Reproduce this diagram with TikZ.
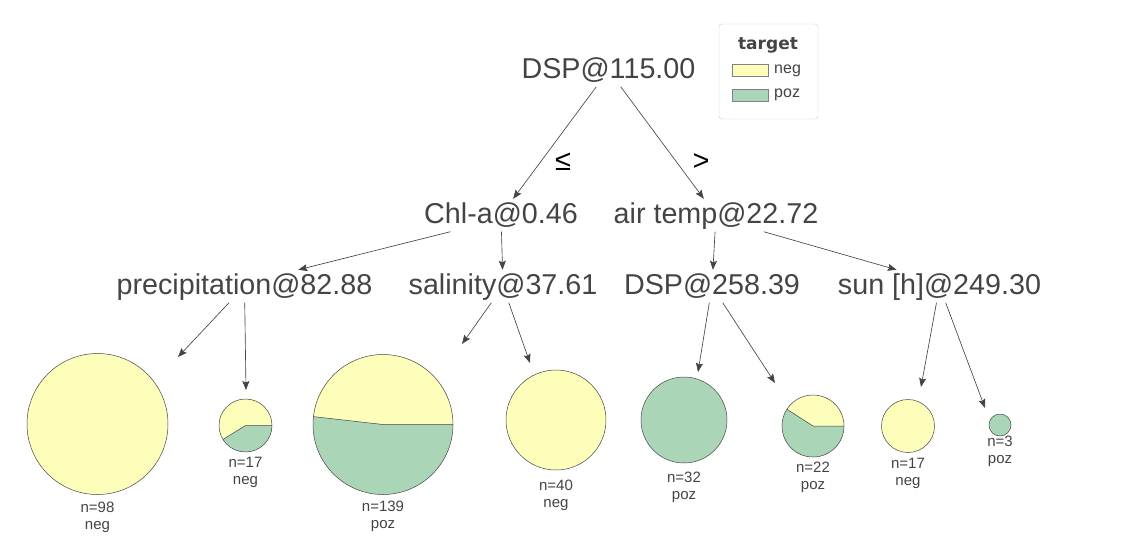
\documentclass[tikz,border=0pt]{standalone}
\usepackage{fontspec}
\setmainfont{Liberation Sans}
\newfontfamily\legendfont{DejaVu Sans}
\usetikzlibrary{arrows.meta, calc}

\definecolor{labelgrey}{HTML}{444443}
\definecolor{negcolor}{HTML}{FEFEBB}
\definecolor{pozcolor}{HTML}{AAD6B7}
\definecolor{framegrey}{HTML}{CCCCCC}

\tikzset{
	split/.style={text=labelgrey, font=\fontsize{28.7}{30}\selectfont, inner sep=0pt, text height=24pt, text depth=8.5pt, anchor=base},
	cond/.style={text=black, font=\fontsize{29}{30}\selectfont, inner sep=0pt},
	edge/.style={draw=labelgrey, line width=0.65pt, -{Stealth[length=9pt, width=7pt, inset=1.5pt]}},
	leafcircle/.style={circle, draw=labelgrey, line width=0.5pt, inner sep=0pt},
	leaflabel/.style={text=labelgrey, font=\fontsize{15}{17}\selectfont, align=center, inner sep=0pt, anchor=north},
	swatch/.style={draw=gray, line width=0.5pt, minimum width=36pt, minimum height=12pt, inner sep=0pt},
	keytext/.style={text=labelgrey, font=\fontsize{16}{18}\selectfont, inner sep=0pt, anchor=west}
}

% mixed leaf: name, x, y, radius, angle of the neg share
\newcommand{\leafpie}[5]{%
	\fill[negcolor] (#2,#3) -- ++(0:#4) arc[start angle=0, end angle=-#5, radius=#4] -- cycle;
	\fill[pozcolor] (#2,#3) -- ++(-#5:#4) arc[start angle=-#5, end angle=-360, radius=#4] -- cycle;
	\draw[labelgrey, line width=0.5pt] (#2,#3) ++(0:#4) -- (#2,#3) -- ++(-#5:#4);
	\node[leafcircle, minimum size={2*#4pt}] (#1) at (#2,#3) {};
}
% pure leaf: name, x, y, radius, colour
\newcommand{\leafdisc}[5]{%
	\node[leafcircle, fill=#5, minimum size={2*#4pt}] (#1) at (#2,#3) {};
}

\begin{document}
\begin{tikzpicture}[x=1pt, y=-1pt]
\useasboundingbox (0,0) rectangle (1130,558);

% Split nodes
\node[split] (root) at (608.5,78) {DSP@115.00};
\node[split] (chla) at (501,223) {Chl-a@0.46};
\node[split] (airtemp) at (716,223) {air temp@22.72};
\node[split] (precip) at (244.5,294) {precipitation@82.88};
\node[split] (salinity) at (503,294) {salinity@37.61};
\node[split] (dsplow) at (712,294) {DSP@258.39};
\node[split] (sun) at (939.5,294) {sun [h]@249.30};

\node[cond] (le) at (563,162) {≤};
\node[cond] (gt) at (701,162) {>};

% Split edges
\draw[edge] (root) -- (chla);
\draw[edge] (root) -- (airtemp);
\draw[edge] (chla.-162) -- (precip.17);
\draw[edge] (chla) -- (salinity);
\draw[edge] (airtemp) -- (dsplow);
\draw[edge] (airtemp.-19) -- (sun.159);

% Leaves
\leafdisc{leafA}{97.5}{424}{70.5}{negcolor}
\leafpie{leafB}{245.5}{425.5}{26.5}{211.76}
\leafpie{leafC}{383}{424.5}{70}{173.53}
\leafdisc{leafD}{556}{420}{50}{negcolor}
\leafdisc{leafE}{684}{420}{43}{pozcolor}
\leafpie{leafF}{813}{426}{31}{147.27}
\leafdisc{leafG}{908}{426}{26.5}{negcolor}
\leafdisc{leafH}{1000}{425}{11}{pozcolor}

\node[leaflabel] (countA) at (97.5,502) {n=98\\neg};
\node[leaflabel] (countB) at (245.5,457) {n=17\\neg};
\node[leaflabel] (countC) at (383,501) {n=139\\poz};
\node[leaflabel] (countD) at (556,480) {n=40\\neg};
\node[leaflabel] (countE) at (684,472) {n=32\\poz};
\node[leaflabel] (countF) at (813,462) {n=22\\poz};
\node[leaflabel] (countG) at (908,458) {n=17\\neg};
\node[leaflabel] (countH) at (1000,436) {n=3\\poz};

% Leaf edges
\coordinate (tipA) at (178,357);
\coordinate (tipB) at (246,390);
\coordinate (tipC) at (462,344);
\coordinate (tipD) at (530,363);
\coordinate (tipE) at (698,372);
\coordinate (tipF) at (775,383);
\coordinate (tipG) at (921,387);
\coordinate (tipH) at (985,408);
\draw[edge] (precip) -- (tipA);
\draw[edge] (precip) -- (tipB);
\draw[edge] (salinity) -- (tipC);
\draw[edge] (salinity) -- (tipD);
\draw[edge] (dsplow) -- (tipE);
\draw[edge] (dsplow) -- (tipF);
\draw[edge] (sun) -- (tipG);
\draw[edge] (sun) -- (tipH);

% Legend
\node[draw=framegrey, fill=white, rounded corners=3pt, minimum width=99pt, minimum height=95pt, inner sep=0pt] (legend) at (768.5,71.5) {};
\node[text=labelgrey, font=\legendfont\bfseries\fontsize{17}{19}\selectfont, inner sep=0pt] (title) at (768,45) {target};
\node[swatch, fill=negcolor] (negkey) at (750,70.5) {};
\node[swatch, fill=pozcolor] (pozkey) at (750,95) {};
\node[keytext] (negtext) at (774,70.5) {neg};
\node[keytext] (poztext) at (774,95) {poz};
\end{tikzpicture}
\end{document}
